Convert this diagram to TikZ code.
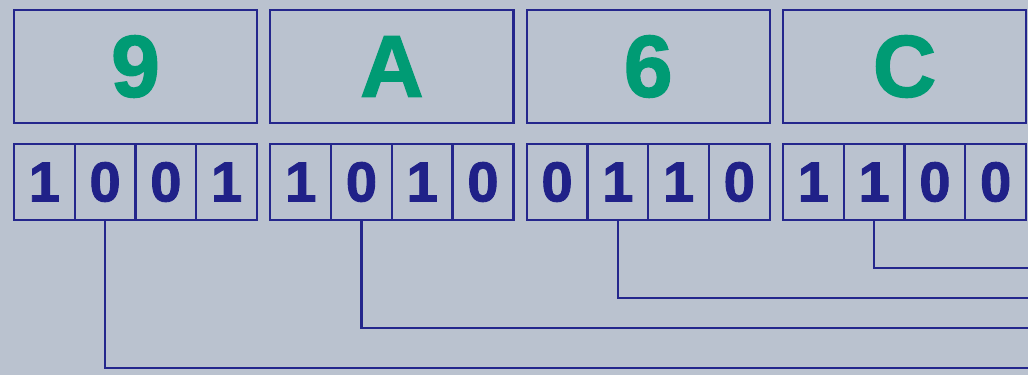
\documentclass[tikz,border=0pt]{standalone}
\usepackage{fontspec}
\setmainfont{Liberation Sans}
\newfontfamily\heavyfont{Liberation Sans Bold}[FakeBold=1.6]
\usetikzlibrary{positioning}
\definecolor{backc}{HTML}{BAC2CF}
\definecolor{navyc}{HTML}{24268C}
\definecolor{greenc}{HTML}{009B74}
\definecolor{bitc}{HTML}{202188}

\begin{document}
\begin{tikzpicture}[
      hexbox/.style={draw=navyc, line width=1.3pt, minimum width=4.86cm,
                     minimum height=2.26cm, inner sep=0pt, outer sep=0pt,
                     text=greenc, font=\fontsize{50}{50}\heavyfont},
      bitbox/.style={draw=navyc, line width=1.3pt, minimum width=1.215cm,
                     minimum height=1.52cm, inner sep=0pt, outer sep=0pt,
                     text=bitc, font=\fontsize{32}{32}\heavyfont},
      wire/.style={navyc, line width=1.3pt},
      node distance=0.42cm and 0.267cm]
    \fill[backc] (0,0) rectangle (20.56,7.5);
    \useasboundingbox (0,0) rectangle (20.56,7.5);
    % hex digits
    \node[hexbox, anchor=north west] (h9) at (0.28,7.3) {9};
    \node[hexbox, right=of h9] (hA) {A};
    \node[hexbox, right=of hA] (h6) {6};
    \node[hexbox, right=of h6] (hC) {C};
    % nibbles
    \node[bitbox, below right=0.42cm and 0cm of h9.south west] (b11) {1};
    \node[bitbox, right=0cm of b11] (b12) {0};
    \node[bitbox, right=0cm of b12] (b13) {0};
    \node[bitbox, right=0cm of b13] (b14) {1};
    \node[bitbox, below right=0.42cm and 0cm of hA.south west] (b21) {1};
    \node[bitbox, right=0cm of b21] (b22) {0};
    \node[bitbox, right=0cm of b22] (b23) {1};
    \node[bitbox, right=0cm of b23] (b24) {0};
    \node[bitbox, below right=0.42cm and 0cm of h6.south west] (b31) {0};
    \node[bitbox, right=0cm of b31] (b32) {1};
    \node[bitbox, right=0cm of b32] (b33) {1};
    \node[bitbox, right=0cm of b33] (b34) {0};
    \node[bitbox, below right=0.42cm and 0cm of hC.south west] (b41) {1};
    \node[bitbox, right=0cm of b41] (b42) {1};
    \node[bitbox, right=0cm of b42] (b43) {0};
    \node[bitbox, right=0cm of b43] (b44) {0};
    % wires leaving on the right
    \coordinate (e1) at (20.56,0.14);
    \coordinate (e2) at (20.56,0.94);
    \coordinate (e3) at (20.56,1.54);
    \coordinate (e4) at (20.56,2.14);
    \draw[wire] (b12.south) |- (e1);
    \draw[wire] (b22.south) |- (e2);
    \draw[wire] (b32.south) |- (e3);
    \draw[wire] (b42.south) |- (e4);
  \end{tikzpicture}
\end{document}
